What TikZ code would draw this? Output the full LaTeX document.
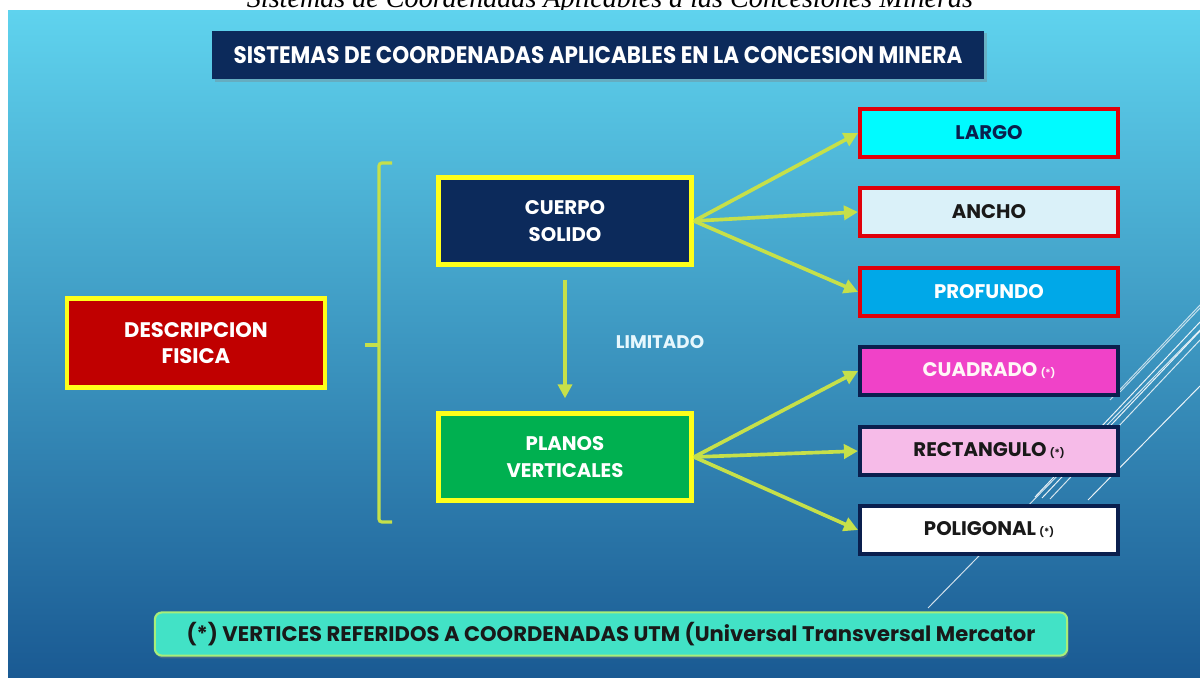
\documentclass[tikz,border=0pt]{standalone}
\usepackage{fontspec}
\setsansfont{Poppins}
\newfontfamily\headfont[FakeStretch=0.9]{Poppins}
\newfontfamily\capfont{Liberation Serif}
\usetikzlibrary{arrows.meta,shadows}
\definecolor{slidetop}{HTML}{5FD3EE}
\definecolor{slidemid}{HTML}{3DA4D3}
\definecolor{slidebot}{HTML}{1A5A93}
\definecolor{navy}{HTML}{0C2A5B}
\definecolor{boxyellow}{HTML}{FFFF1A}
\definecolor{boxred}{HTML}{C00000}
\definecolor{boxgreen}{HTML}{00B050}
\definecolor{edgered}{HTML}{E0000A}
\definecolor{edgenavy}{HTML}{0A1F4E}
\definecolor{arrowgreen}{HTML}{C6E04A}
\definecolor{notefill}{HTML}{42E2C6}
\definecolor{noteedge}{HTML}{A8EE7A}
\definecolor{largofill}{HTML}{00FBFF}
\definecolor{anchofill}{HTML}{DAF1F9}
\definecolor{profundofill}{HTML}{00A8E8}
\definecolor{cuadradofill}{HTML}{F042C8}
\definecolor{rectfill}{HTML}{F6BBE8}
\newcommand\aster{\,{\fontsize{7}{7}\selectfont(*)}}
\tikzset{
  headbox/.style={fill=navy, text=white, minimum width=19.3cm, minimum height=1.22cm, drop shadow={opacity=0.35, shadow xshift=2pt, shadow yshift=-2pt}, font=\headfont\bfseries\fontsize{17}{19}\selectfont},
  mainbox/.style={draw=boxyellow, line width=3.4pt, minimum width=6.33cm, minimum height=2.18cm, align=center, text=white, font=\sffamily\bfseries\fontsize{14}{19}\selectfont},
  leafbox/.style={line width=2.8pt, minimum width=6.45cm, minimum height=1.18cm, font=\sffamily\bfseries\fontsize{14}{16}\selectfont},
  arrowline/.style={draw=arrowgreen, line width=2.6pt, -{Triangle[length=10pt,width=10pt]}},
  bracketline/.style={draw=arrowgreen, line width=2.2pt, rounded corners=2pt},
  notebox/.style={fill=notefill, draw=noteedge, line width=1.5pt, rounded corners=5pt, minimum width=22.8cm, minimum height=1.08cm, drop shadow={opacity=0.4, shadow xshift=1pt, shadow yshift=-2pt}, text=black!90, font=\sffamily\bfseries\fontsize{15}{18}\selectfont},
  deco/.style={draw=white, line width=0.7pt},
}

\begin{document}
\begin{tikzpicture}[x=0.025cm,y=-0.025cm]
\useasboundingbox (0,0) rectangle (1200,677);
\fill[white] (0,0) rectangle (1200,677);
\node[anchor=base, font=\capfont\itshape\fontsize{20}{22}\selectfont] (caption) at (610,7.5) {Sistemas de Coordenadas Aplicables a las Concesiones Mineras};
\shade[top color=slidetop, middle color=slidemid, bottom color=slidebot] (8,10) rectangle (1200,677);
% decorative lines
\foreach \xa/\ya/\xb/\yb/\op in {928/608/1200/330/0.8, 1035/497/1200/322/0.9, 1042/498/1200/331/0.9, 1050/499/1200/340/0.8, 1088/500/1200/386/0.9, 1110/400/1200/305/0.7, 1120/392/1200/308/0.7}
  \draw[deco, opacity=\op] (\xa,\ya) -- (\xb,\yb);

\node[headbox] (head) at (598,55) {SISTEMAS DE COORDENADAS APLICABLES EN LA CONCESION MINERA};

\node[mainbox, fill=boxred, minimum width=6.45cm, minimum height=2.23cm, font=\sffamily\bfseries\fontsize{15}{19}\selectfont] (desc) at (196,343) {DESCRIPCION\\FISICA};
\node[mainbox, fill=navy] (cuerpo) at (565,221) {CUERPO\\SOLIDO};
\node[mainbox, fill=boxgreen] (planos) at (565,457) {PLANOS\\VERTICALES};
\node[text=white!90!cyan, font=\sffamily\bfseries\fontsize{13}{15}\selectfont] (limitado) at (660,342) {LIMITADO};

\node[leafbox, draw=edgered, fill=largofill, text=edgenavy] (largo) at (989,133) {LARGO};
\node[leafbox, draw=edgered, fill=anchofill, text=black!90] (ancho) at (989,212) {ANCHO};
\node[leafbox, draw=edgered, fill=profundofill, text=white] (profundo) at (989,292) {PROFUNDO};
\node[leafbox, draw=edgenavy, fill=cuadradofill, text=white!88!pink] (cuadrado) at (989,371) {CUADRADO\aster};
\node[leafbox, draw=edgenavy, fill=rectfill, text=black!90] (rectangulo) at (989,451) {RECTANGULO\aster};
\node[leafbox, draw=edgenavy, fill=white, text=black!90] (poligonal) at (989,530) {POLIGONAL\aster};

\draw[bracketline] (392,163) -- (379,163) -- (379,522) -- (392,522);
\draw[bracketline] (379,345) -- (365,345);

\draw[arrowline] (cuerpo.east) -- (largo.west);
\draw[arrowline] (cuerpo.east) -- (ancho.west);
\draw[arrowline] (cuerpo.east) -- (profundo.west);
\draw[arrowline] (planos.east) -- (cuadrado.west);
\draw[arrowline] (planos.east) -- (rectangulo.west);
\draw[arrowline] (planos.east) -- (poligonal.west);
\draw[arrowline, shorten <=9pt, shorten >=9pt] (cuerpo) -- (planos);

\node[notebox] (nota) at (611,634) {(*) VERTICES REFERIDOS A COORDENADAS UTM (Universal Transversal Mercator};
\end{tikzpicture}
\end{document}
